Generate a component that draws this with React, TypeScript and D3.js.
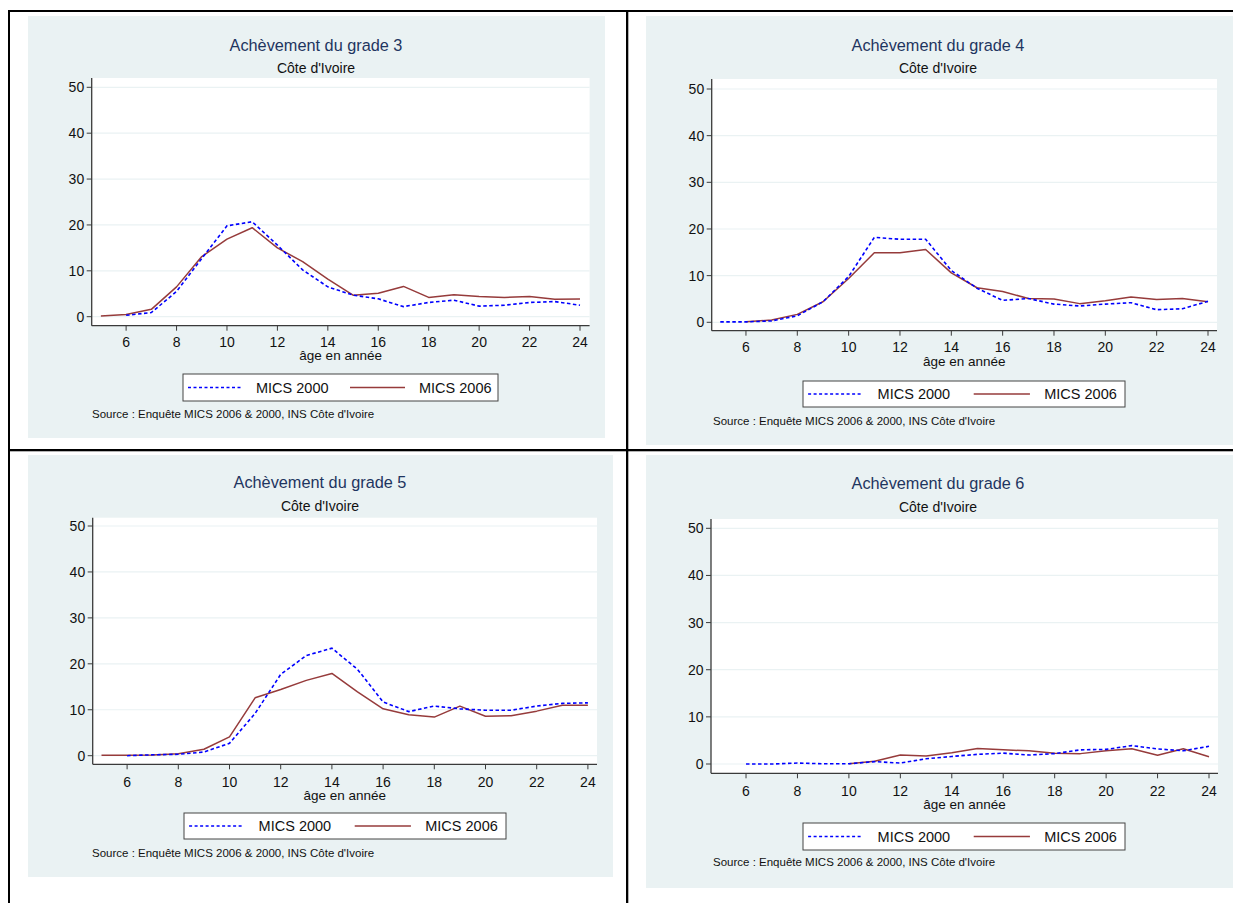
import React from "react";
import * as d3 from "d3";

// ---------- data ----------
const ages = [5, 6, 7, 8, 9, 10, 11, 12, 13, 14, 15, 16, 17, 18, 19, 20, 21, 22, 23, 24];
const xTicks = [6, 8, 10, 12, 14, 16, 18, 20, 22, 24];
const yTicks = [0, 10, 20, 30, 40, 50];
const seriesNames = ["MICS 2000", "MICS 2006"];
const titles = ["Achèvement du grade 3", "Achèvement du grade 4", "Achèvement du grade 5", "Achèvement du grade 6"];
const subtitle = "Côte d'Ivoire";
const xAxisTitle = "âge en année";
const sourceText = "Source : Enquête MICS 2006 & 2000, INS Côte d'Ivoire";

const g3_2000 = [null, 0.3, 0.9, 5.5, 12.7, 19.8, 20.7, 15.6, 10.2, 6.5, 4.7, 3.9, 2.2, 3.1, 3.6, 2.3, 2.5, 3.1, 3.3, 2.5];
const g3_2006 = [0.15, 0.5, 1.6, 6.5, 13.1, 16.9, 19.4, 15.0, 12.0, 8.2, 4.7, 5.1, 6.6, 4.2, 4.8, 4.4, 4.2, 4.4, 3.8, 3.85];
const g4_2000 = [0.1, 0.1, 0.3, 1.4, 4.4, 9.8, 18.2, 17.8, 17.8, 11.1, 7.3, 4.7, 5.1, 3.9, 3.5, 3.9, 4.2, 2.7, 2.9, 4.5];
const g4_2006 = [null, 0.1, 0.5, 1.7, 4.4, 9.4, 14.9, 14.9, 15.6, 10.6, 7.4, 6.6, 5.1, 5.0, 4.0, 4.6, 5.4, 4.9, 5.1, 4.4];
const g5_2000 = [null, 0.0, 0.2, 0.3, 0.8, 2.7, 9.2, 17.7, 21.8, 23.4, 18.8, 11.7, 9.6, 10.8, 10.2, 9.9, 9.9, 10.8, 11.4, 11.5];
const g5_2006 = [0.1, 0.1, 0.15, 0.4, 1.4, 4.1, 12.6, 14.4, 16.4, 17.9, 13.9, 10.2, 8.9, 8.4, 10.8, 8.6, 8.7, 9.7, 11.0, 11.0];
const g6_2000 = [null, 0.0, 0.0, 0.2, 0.05, 0.05, 0.5, 0.2, 1.1, 1.6, 2.05, 2.3, 1.9, 2.2, 3.0, 3.1, 3.9, 3.2, 2.8, 3.75];
const g6_2006 = [null, null, null, null, null, 0.07, 0.6, 1.9, 1.7, 2.4, 3.3, 3.0, 2.8, 2.3, 2.2, 2.8, 3.25, 1.85, 3.25, 1.55];

const data2000 = [g3_2000, g4_2000, g5_2000, g6_2000];
const data2006 = [g3_2006, g4_2006, g5_2006, g6_2006];

// ---------- layout ----------
type Layout = {
  bg: [number, number, number, number];
  plot: [number, number, number, number]; // left, top, right, bottom(axis line)
  x5: number; x24: number; y0: number; y50: number;
  titleX: number; titleY: number; subY: number;
  tickY: number; axisTitleY: number;
  legend: [number, number, number, number];
  srcX: number; srcY: number;
};

const layouts: Layout[] = [
  { bg: [28, 16, 605, 438], plot: [91.7, 78, 589.6, 325.7], x5: 100.9, x24: 580, y0: 316.7, y50: 87.3,
    titleX: 316, titleY: 51, subY: 73, tickY: 347, axisTitleY: 360, legend: [183, 374, 498, 401], srcX: 92, srcY: 418 },
  { bg: [646, 16, 1233, 445], plot: [711.7, 79, 1217, 330.7], x5: 720.3, x24: 1208, y0: 322.3, y50: 89,
    titleX: 938, titleY: 51, subY: 73, tickY: 352, axisTitleY: 366, legend: [803, 381, 1125, 407], srcX: 713, srcY: 425 },
  { bg: [28, 455, 613, 877], plot: [92.7, 517.7, 597, 764.3], x5: 101.5, x24: 587.9, y0: 755.7, y50: 526,
    titleX: 320, titleY: 488, subY: 511, tickY: 787, axisTitleY: 800, legend: [184, 813, 506, 839], srcX: 92, srcY: 857 },
  { bg: [646, 455, 1233, 888], plot: [711, 519, 1218, 773.3], x5: 720.3, x24: 1209, y0: 764, y50: 528.3,
    titleX: 938, titleY: 489, subY: 512, tickY: 796, axisTitleY: 809, legend: [803, 823, 1125, 850], srcX: 713, srcY: 866 },
];

const FONT = "'Liberation Sans', Arial, Helvetica, sans-serif";
const BG = "#eaf2f3";
const GRID = "#eaf2f3";
const AXIS = "#3a3a3a";
const BLUE = "#0000ff";
const RED = "#963b3b";
const TITLE = "#1e3560";

function Panel({ i }: { i: number }) {
  const L = layouts[i];
  const x = d3.scaleLinear().domain([5, 24]).range([L.x5, L.x24]);
  const y = d3.scaleLinear().domain([0, 50]).range([L.y0, L.y50]);
  const [pl, pt, pr, pb] = L.plot;
  const mk = (vals: (number | null)[]) =>
    d3.line<number>()
      .defined((_, k) => vals[k] != null)
      .x((a) => x(a))
      .y((_, k) => y(vals[k] as number))(ages) || "";
  const [lx0, ly0, lx1, ly1] = L.legend;
  const lw = lx1 - lx0;
  const s = lw / 315;
  const lcy = (ly0 + ly1) / 2;
  return (
    <g>
      <rect x={L.bg[0]} y={L.bg[1]} width={L.bg[2] - L.bg[0]} height={L.bg[3] - L.bg[1]} fill={BG} />
      <rect x={pl} y={pt} width={pr - pl} height={pb - pt} fill="#ffffff" />
      {yTicks.map((t) => (
        <line key={"g" + t} x1={pl} x2={pr} y1={y(t)} y2={y(t)} stroke={GRID} strokeWidth={1.2} />
      ))}
      <text x={L.titleX} y={L.titleY} textAnchor="middle" fontFamily={FONT} fontSize={16.3} fill={TITLE}>{titles[i]}</text>
      <text x={L.titleX} y={L.subY} textAnchor="middle" fontFamily={FONT} fontSize={14} fill="#111">{subtitle}</text>
      {/* axes */}
      <line x1={pl} x2={pl} y1={pt} y2={pb} stroke={AXIS} strokeWidth={1.3} />
      <line x1={pl} x2={pr} y1={pb} y2={pb} stroke={AXIS} strokeWidth={1.3} />
      {yTicks.map((t) => (
        <g key={"yt" + t}>
          <line x1={pl - 5} x2={pl} y1={y(t)} y2={y(t)} stroke={AXIS} strokeWidth={1} />
          <text x={pl - 7.5} y={y(t)} dy="0.36em" textAnchor="end" fontFamily={FONT} fontSize={14} fill="#111">{t}</text>
        </g>
      ))}
      {xTicks.map((t) => (
        <g key={"xt" + t}>
          <line x1={x(t)} x2={x(t)} y1={pb} y2={pb + 5} stroke={AXIS} strokeWidth={1} />
          <text x={x(t)} y={L.tickY} textAnchor="middle" fontFamily={FONT} fontSize={14} fill="#111">{t}</text>
        </g>
      ))}
      <text x={(pl + pr) / 2} y={L.axisTitleY} textAnchor="middle" fontFamily={FONT} fontSize={13.5} fill="#111">{xAxisTitle}</text>
      {/* series */}
      <path d={mk(data2006[i])} fill="none" stroke={RED} strokeWidth={1.5} strokeLinejoin="round" />
      <path d={mk(data2000[i])} fill="none" stroke={BLUE} strokeWidth={1.6} strokeDasharray="3.5,2.5" />
      {/* legend */}
      <rect x={lx0} y={ly0} width={lw} height={ly1 - ly0} fill="#ffffff" stroke="#444" strokeWidth={1} />
      <line x1={lx0 + 5 * s} x2={lx0 + 58 * s} y1={lcy} y2={lcy} stroke={BLUE} strokeWidth={1.5} strokeDasharray="3,2.5" />
      <text x={lx0 + 73 * s} y={lcy} dy="0.36em" fontFamily={FONT} fontSize={14.5} fill="#111">{seriesNames[0]}</text>
      <line x1={lx0 + 167 * s} x2={lx0 + 222 * s} y1={lcy} y2={lcy} stroke={RED} strokeWidth={1.5} />
      <text x={lx0 + 236 * s} y={lcy} dy="0.36em" fontFamily={FONT} fontSize={14.5} fill="#111">{seriesNames[1]}</text>
      <text x={L.srcX} y={L.srcY} fontFamily={FONT} fontSize={11.5} fill="#111">{sourceText}</text>
    </g>
  );
}

export default function App() {
  return (
    <svg width={1233} height={903} style={{ position: "absolute", left: 0, top: 0, display: "block" }}>
      <rect x={0} y={0} width={1233} height={903} fill="#ffffff" />
      {[0, 1, 2, 3].map((i) => (
        <Panel key={i} i={i} />
      ))}
      {/* table borders */}
      <rect x={8} y={10} width={1225} height={2} fill="#000" />
      <rect x={8} y={10} width={2} height={893} fill="#000" />
      <rect x={626} y={10} width={2.3} height={893} fill="#000" />
      <rect x={8} y={449} width={1225} height={2.3} fill="#000" />
    </svg>
  );
}
